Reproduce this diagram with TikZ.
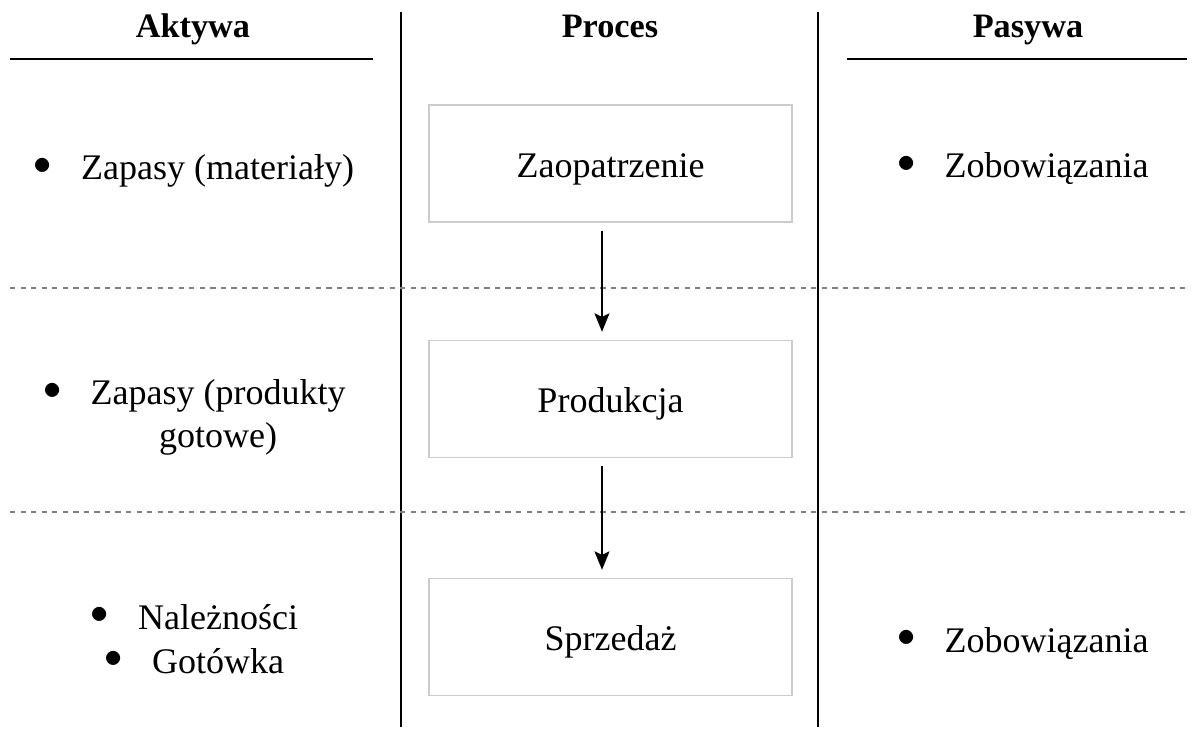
\documentclass[tikz,border=0pt]{standalone}
\usepackage{fontspec}
\setmainfont{Liberation Serif}
\usetikzlibrary{arrows.meta,positioning}
\newcommand{\bul}{\raisebox{3pt}{$\bullet$}\hspace{16.5pt}}

\begin{document}
\begin{tikzpicture}[x=0.02cm,y=-0.02cm,
  font=\fontsize{20.5}{28}\selectfont,
  stagebox/.style={draw=gray!40,line width=0.9pt,minimum width=7.26cm,minimum height=2.34cm,
    inner sep=0pt,text height=0.7cm,text depth=0.14cm},
  header/.style={anchor=base,font=\fontsize{19.5}{24}\selectfont\bfseries},
  item/.style={anchor=base},
  flow/.style={-{Stealth[length=10.5pt,width=8.5pt,inset=2pt]},line width=1pt,shorten >=4.5pt,shorten <=4.5pt}]
\useasboundingbox (0,0) rectangle (1197,729);

% Column separators
\draw[line width=1.2pt] (401,12) -- (401,727);
\draw[line width=1.2pt] (818,12) -- (818,727);

% Headers
\node[header] (aktywa) at (193,38) {Aktywa};
\node[header] (proces) at (610,38) {Proces};
\node[header] (pasywa) at (1028,38) {Pasywa};
\draw[line width=1.1pt] (10,59) -- (373,59);
\draw[line width=1.1pt] (847,59) -- (1187,59);

% Row separators
\draw[gray,dashed,line width=0.6pt] (10,288) -- (1190,288);
\draw[gray,dashed,line width=0.6pt] (10,512) -- (1190,512);

% Process stages
\node[stagebox] (zaop) at (610.5,163.5) {Zaopatrzenie};
\node[stagebox] (prod) at (610.5,399) {Produkcja};
\node[stagebox] (sprz) at (610.5,637) {Sprzedaż};
\draw[flow] ([xshift=-0.17cm]zaop.south) -- ([xshift=-0.17cm]prod.north);
\draw[flow] ([xshift=-0.17cm]prod.south) -- ([xshift=-0.17cm]sprz.north);

% Assets
\node[item] (mat) at (194,180) {\bul Zapasy (materiały)};
\node[item] (gotowe) at (194.5,405)
  {\bul\begin{tabular}[t]{@{}c@{}}Zapasy (produkty\\[-4pt]gotowe)\end{tabular}};
\node[item,align=center] (nal) at (194.5,673)
  {\bul Należności\\[-3pt]\bul Gotówka};

% Liabilities
\node[item] (zob1) at (1023,178) {\bul Zobowiązania};
\node[item] (zob2) at (1023,652) {\bul Zobowiązania};
\end{tikzpicture}
\end{document}
